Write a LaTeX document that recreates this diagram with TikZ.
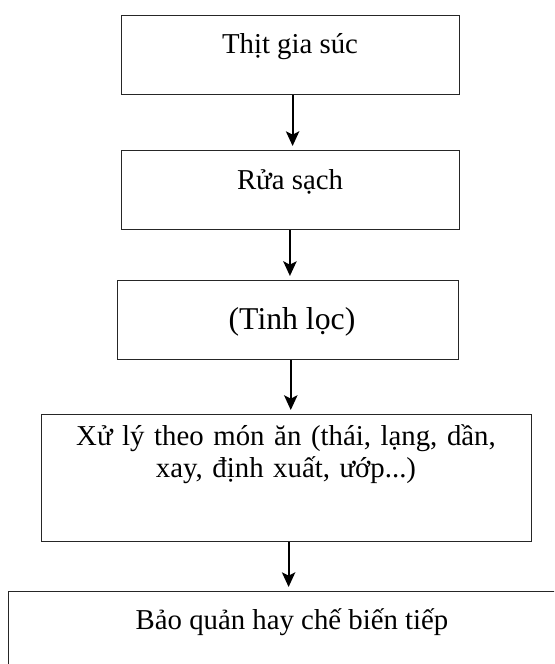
\documentclass[tikz,border=0pt]{standalone}
\usepackage{fontspec}
\setmainfont{Liberation Serif}
\usetikzlibrary{arrows.meta}
\begin{document}
\begin{tikzpicture}[x=0.75pt,y=0.75pt,
  box/.style={draw=black!85, line width=0.9pt, rectangle, inner sep=0pt, anchor=north west},
  txt/.style={inner sep=0pt, anchor=base, font=\fontsize{21.6}{23.5}\selectfont},
  arr/.style={line width=1.6pt, -{Stealth[length=11pt,width=10pt,inset=2.5pt]}, shorten >=3pt}]
\useasboundingbox (0,0) rectangle (554,664);
\clip (0,0) rectangle (554,664);
\node[box, minimum width=253.5pt, minimum height=59.25pt] (b1) at (121,649) {};
\node[box, minimum width=253.5pt, minimum height=59.25pt] (b2) at (121,514) {};
\node[box, minimum width=255.75pt, minimum height=59.25pt] (b3) at (117,384) {};
\node[box, minimum width=367.5pt, minimum height=95.25pt] (b4) at (41,250) {};
\node[box, minimum width=427.5pt, minimum height=75pt] (b5) at (8,73) {};
\node[txt] (t1) at (290,610) {Thịt gia súc};
\node[txt] (t2) at (290,474) {Rửa sạch};
\node[txt, font=\fontsize{23.8}{26}\selectfont] (t3) at (292,334) {(Tinh lọc)};
\node[txt, text width=367.5pt, align=center] (t4) at (286,218) {Xử lý theo món ăn (thái, lạng, dần,\\xay, định xuất, ướp...)};
\node[txt] (t5) at (292,34) {Bảo quản hay chế biến tiếp};
\draw[arr] ([xshift=1.5pt]b1.south) -- ([xshift=1.5pt]b1.south |- b2.north);
\draw[arr] ([xshift=-0.5pt]b2.south) -- ([xshift=-0.5pt]b2.south |- b3.north);
\draw[arr] ([xshift=2pt]b3.south) -- ([xshift=2pt]b3.south |- b4.north);
\draw[arr] ([xshift=1.5pt]b4.south) -- ([xshift=1.5pt]b4.south |- b5.north);
\end{tikzpicture}
\end{document}
